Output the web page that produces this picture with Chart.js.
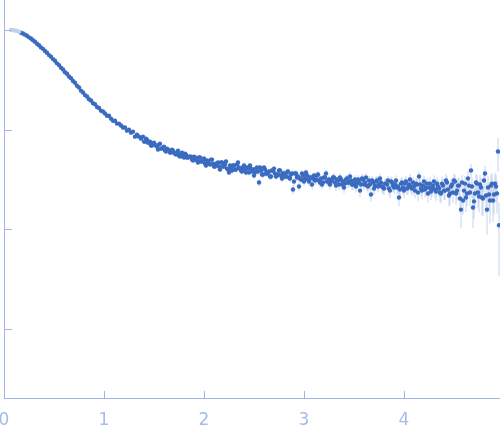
<!DOCTYPE html>
<html><head><meta charset="utf-8">
<script src="https://cdn.jsdelivr.net/npm/chart.js@4/dist/chart.umd.min.js"></script>
<style>html,body{margin:0;padding:0;background:#fff}#wrap{width:500px;height:437px}</style>
</head><body><div id="wrap"><canvas id="c"></canvas></div>
<script>
// excluded (pale) low-q points
const qExcluded = [0.07,0.09,0.11,0.13,0.15];
const iExcluded = [1.000,0.995,0.988,0.977,0.962];
const errExcluded = [0.004,0.004,0.004,0.004,0.004];

// scattering vector (odd-hundredth samples)
const q = [
0.17,0.19,0.21,0.23,0.25,0.27,0.29,0.31,0.33,0.35,0.37,0.39,0.41,0.43,0.45,0.47,0.49,0.51,0.53,0.55,0.57,0.59,0.61,0.63,0.65,0.67,0.69,0.71,0.73,0.75,0.77,0.79,0.81,0.83,0.85,0.87,0.89,0.91,0.93,0.95,0.97,0.99,
1.01,1.03,1.05,1.07,1.09,1.11,1.13,1.15,1.17,1.19,1.21,1.23,1.25,1.27,1.29,1.31,1.33,1.35,1.37,1.39,1.41,1.43,1.45,1.47,1.49,1.51,1.53,1.55,1.57,1.59,1.61,1.63,1.65,1.67,1.69,1.71,1.73,1.75,1.77,1.79,1.81,1.83,1.85,1.87,1.89,1.91,1.93,1.95,1.97,1.99,
2.01,2.03,2.05,2.07,2.09,2.11,2.13,2.15,2.17,2.19,2.21,2.23,2.25,2.27,2.29,2.31,2.33,2.35,2.37,2.39,2.41,2.43,2.45,2.47,2.49,2.51,2.53,2.55,2.57,2.59,2.61,2.63,2.65,2.67,2.69,2.71,2.73,2.75,2.77,2.79,2.81,2.83,2.85,2.87,2.89,2.91,2.93,2.95,2.97,2.99,
3.01,3.03,3.05,3.07,3.09,3.11,3.13,3.15,3.17,3.19,3.21,3.23,3.25,3.27,3.29,3.31,3.33,3.35,3.37,3.39,3.41,3.43,3.45,3.47,3.49,3.51,3.53,3.55,3.57,3.59,3.61,3.63,3.65,3.67,3.69,3.71,3.73,3.75,3.77,3.79,3.81,3.83,3.85,3.87,3.89,3.91,3.93,3.95,3.97,3.99,
4.01,4.03,4.05,4.07,4.09,4.11,4.13,4.15,4.17,4.19,4.21,4.23,4.25,4.27,4.29,4.31,4.33,4.35,4.37,4.39,4.41,4.43,4.45,4.47,4.49,4.51,4.53,4.55,4.57,4.59,4.61,4.63,4.65,4.67,4.69,4.71,4.73,4.75,4.77,4.79,4.81,4.83,4.85,4.87,4.89,4.91,4.93,4.94,4.95
];

const intensity = [
0.938,0.921,0.897,0.873,0.842,0.819,0.789,0.762,0.727,0.702,0.668,0.646,0.614,0.591,0.559,0.539,0.510,0.491,0.462,0.444,0.418,0.401,0.376,0.363,0.341,0.328,0.308,0.295,0.276,0.265,0.246,0.236,0.222,0.215,0.202,0.196,0.184,0.180,0.169,0.165,0.155,0.152,
0.145,0.138,0.138,0.129,0.123,0.123,0.115,0.115,0.110,0.105,
0.105,0.0977,0.100,0.0933,0.0955,0.0851,0.0891,0.0851,0.0813,0.0851,
0.0759,0.0794,0.0741,0.0692,0.0724,0.0708,0.0676,0.0708,0.0646,0.0661,
0.0617,0.0646,0.0617,0.0589,0.0617,0.0575,0.0589,0.0550,0.0575,0.0537,
0.0575,0.0525,0.0537,0.0537,0.0490,0.0525,0.0490,0.0525,0.0479,0.0490,
0.0457,0.0490,0.0457,0.0501,0.0457,0.0427,0.0457,0.0427,0.0468,0.0427,
0.0447,0.0407,0.0372,0.0417,0.0437,0.0398,0.0447,0.0417,0.0389,0.0417,
0.0398,0.0417,0.0372,0.0407,0.0398,0.0372,0.0417,0.0295,0.0389,0.0355,
0.0398,0.0363,0.0380,0.0339,0.0389,0.0363,0.0347,0.0389,0.0347,0.0363,
0.0339,0.0372,0.0331,0.0355,0.0251,0.0363,0.0331,0.0269,0.0316,0.0347,
0.0324,0.0347,0.0302,0.0331,0.0324,0.0309,0.0347,0.0309,0.0324,0.0295,
0.0331,0.0302,0.0316,0.0302,0.0331,0.0295,0.0316,0.0282,0.0316,0.0302,
0.0288,0.0324,0.0295,0.0309,0.0282,0.0316,0.0288,0.0302,0.0282,0.0316,
0.0295,0.0275,0.0309,0.0224,0.0295,0.0275,0.0309,0.0282,0.0295,0.0263,
0.0288,0.0282,0.0257,0.0302,0.0275,0.0282,0.0263,0.0209,0.0288,0.0263,
0.0288,0.0257,0.0282,0.0269,0.0295,0.0245,0.0282,0.0339,0.0257,0.0275,
0.0251,0.0288,0.0263,0.0240,0.0275,0.0251,0.0288,0.0257,0.0229,0.0275,
0.0245,0.0295,0.0219,0.0269,0.0234,0.0302,0.0245,0.0275,0.0158,0.0195,
0.0288,0.0229,0.0275,0.0389,0.0166,0.0229,0.0288,0.0214,0.0263,0.0204,
0.0363,0.0158,0.0224,0.0275,0.0195,0.0288,0.0229,0.0603,0.0110
];

const err = [
0.004,0.004,0.004,0.004,0.0038,0.0037,0.0036,0.0035,0.0034,0.0033,0.0032,0.0031,0.003,0.0029,0.0028,0.0027,0.0026,0.0025,0.0024,0.0023,0.0022,0.0021,0.002,0.002,0.0019,0.0018,0.0018,0.0017,0.0016,0.0016,0.0015,0.0015,0.0014,0.0014,0.0013,0.0013,0.0013,0.0012,0.0012,0.0012,0.0011,0.0011,
0.0016,0.0015,0.0016,0.0015,0.0014,0.0015,0.0014,0.0014,0.0013,0.0014,
0.0013,0.0014,0.0013,0.0013,0.0012,0.0013,0.0013,0.0012,0.0013,0.0012,
0.0012,0.0013,0.0012,0.0012,0.0013,0.0012,0.0012,0.0013,0.0012,0.0013,
0.0013,0.0012,0.0013,0.0014,0.0013,0.0014,0.0013,0.0014,0.0015,0.0014,
0.0015,0.0016,0.0015,0.0016,0.0017,0.0016,0.0017,0.0018,0.0017,0.0018,
0.0019,0.0020,0.0019,0.0021,0.0020,0.0021,0.0020,0.0022,0.0021,0.0022,
0.0021,0.0023,0.0022,0.0021,0.0023,0.0022,0.0024,0.0022,0.0023,0.0024,
0.0023,0.0024,0.0023,0.0025,0.0024,0.0023,0.0025,0.0026,0.0024,0.0025,
0.0026,0.0024,0.0025,0.0027,0.0026,0.0025,0.0027,0.0026,0.0025,0.0027,
0.0026,0.0028,0.0027,0.0026,0.0028,0.0027,0.0026,0.0028,0.0027,0.0029,
0.0028,0.0027,0.0029,0.0028,0.0030,0.0029,0.0028,0.0030,0.0029,0.0031,
0.0030,0.0029,0.0031,0.0030,0.0032,0.0031,0.0030,0.0032,0.0031,0.0033,
0.0032,0.0031,0.0033,0.0032,0.0034,0.0033,0.0032,0.0034,0.0033,0.0035,
0.0034,0.0033,0.0035,0.0034,0.0036,0.0035,0.0034,0.0036,0.0035,0.0037,
0.0036,0.0035,0.0037,0.0036,0.0038,0.0037,0.0036,0.0038,0.0037,0.0039,
0.0038,0.0037,0.0039,0.0038,0.0040,0.0039,0.0041,0.0040,0.0042,0.0041,
0.0043,0.0042,0.0044,0.0043,0.0045,0.0044,0.0046,0.0045,0.0047,0.0046,
0.0048,0.0047,0.0049,0.0048,0.0050,0.0052,0.0051,0.0053,0.0055,0.0054,
0.0056,0.0058,0.0057,0.0060,0.0062,0.0061,0.0064,0.0066,0.0065,0.0068,
0.0071,0.0070,0.0074,0.0077,0.0076,0.0081,0.0085,0.0225,0.0076
];

// interleaved (even-hundredth) samples in the noisy region
const qInterleaved = [
1.40,1.42,1.44,1.46,1.48,1.50,1.52,1.54,1.56,1.58,1.60,1.62,1.64,1.66,1.68,1.70,1.72,1.74,1.76,1.78,1.80,1.82,1.84,1.86,1.88,1.90,1.92,1.94,1.96,1.98,
2.00,2.02,2.04,2.06,2.08,2.10,2.12,2.14,2.16,2.18,2.20,2.22,2.24,2.26,2.28,2.30,2.32,2.34,2.36,2.38,2.40,2.42,2.44,2.46,2.48,2.50,2.52,2.54,2.56,2.58,2.60,2.62,2.64,2.66,2.68,2.70,2.72,2.74,2.76,2.78,2.80,2.82,2.84,2.86,2.88,2.90,2.92,2.94,2.96,2.98,
3.00,3.02,3.04,3.06,3.08,3.10,3.12,3.14,3.16,3.18,3.20,3.22,3.24,3.26,3.28,3.30,3.32,3.34,3.36,3.38,3.40,3.42,3.44,3.46,3.48,3.50,3.52,3.54,3.56,3.58,3.60,3.62,3.64,3.66,3.68,3.70,3.72,3.74,3.76,3.78,3.80,3.82,3.84,3.86,3.88,3.90,3.92,3.94,3.96,3.98,
4.00,4.02,4.04,4.06,4.08,4.10,4.12,4.14,4.16,4.18,4.20,4.22,4.24,4.26,4.28,4.30,4.32,4.34,4.36,4.38,4.40,4.42,4.44,4.46,4.48,4.50,4.52,4.54,4.56,4.58,4.60,4.62,4.64,4.66,4.68,4.70,4.72,4.74,4.76,4.78,4.80,4.82,4.84,4.86,4.88,4.90,4.92
];

const intensityInterleaved = [
0.0759,0.0813,0.0741,0.0759,0.0692,0.0741,0.0692,0.0631,0.0724,0.0646,
0.0676,0.0603,0.0631,0.0589,0.0631,0.0589,0.0562,0.0617,0.0537,0.0589,
0.0525,0.0562,0.0525,0.0537,0.0501,0.0537,0.0501,0.0468,0.0525,0.0479,
0.0513,0.0437,0.0479,0.0447,0.0501,0.0427,0.0457,0.0468,0.0398,0.0468,
0.0427,0.0479,0.0398,0.0437,0.0389,0.0437,0.0398,0.0468,0.0407,0.0380,
0.0437,0.0372,0.0407,0.0437,0.0380,0.0347,0.0407,0.0380,0.0417,0.0355,
0.0417,0.0363,0.0372,0.0339,0.0389,0.0407,0.0339,0.0355,0.0389,0.0324,
0.0363,0.0339,0.0380,0.0324,0.0363,0.0302,0.0363,0.0339,0.0324,0.0363,
0.0302,0.0372,0.0316,0.0331,0.0282,0.0347,0.0316,0.0355,0.0295,0.0282,
0.0331,0.0363,0.0302,0.0282,0.0316,0.0331,0.0275,0.0309,0.0331,0.0282,
0.0263,0.0316,0.0295,0.0339,0.0282,0.0302,0.0269,0.0316,0.0245,0.0324,
0.0282,0.0331,0.0269,0.0282,0.0309,0.0257,0.0302,0.0269,0.0324,0.0269,
0.0257,0.0288,0.0309,0.0245,0.0295,0.0263,0.0309,0.0269,0.0251,0.0295,
0.0245,0.0302,0.0263,0.0316,0.0257,0.0269,0.0288,0.0234,0.0282,0.0245,
0.0302,0.0263,0.0229,0.0288,0.0257,0.0302,0.0240,0.0269,0.0234,0.0288,
0.0245,0.0309,0.0251,0.0229,0.0282,0.0309,0.0229,0.0275,0.0204,0.0295,
0.0245,0.0209,0.0324,0.0234,0.0269,0.0191,0.0295,0.0234,0.0282,0.0209,
0.0309,0.0219,0.0263,0.0195,0.0288,0.0224,0.0269
];

const errInterleaved = [
0.0014,0.0015,0.0014,0.0015,0.0014,0.0015,0.0016,0.0015,0.0016,0.0015,
0.0016,0.0017,0.0016,0.0017,0.0016,0.0017,0.0018,0.0017,0.0018,0.0017,
0.0018,0.0019,0.0018,0.0019,0.0018,0.0019,0.0020,0.0019,0.0020,0.0019,
0.0020,0.0021,0.0020,0.0021,0.0022,0.0021,0.0022,0.0021,0.0022,0.0023,
0.0022,0.0023,0.0022,0.0024,0.0023,0.0022,0.0024,0.0023,0.0024,0.0023,
0.0024,0.0025,0.0024,0.0023,0.0025,0.0024,0.0026,0.0025,0.0024,0.0026,
0.0025,0.0026,0.0027,0.0025,0.0026,0.0027,0.0026,0.0028,0.0027,0.0026,
0.0028,0.0027,0.0029,0.0028,0.0027,0.0029,0.0028,0.0030,0.0029,0.0028,
0.0029,0.0030,0.0029,0.0031,0.0030,0.0029,0.0031,0.0030,0.0032,0.0031,
0.0030,0.0032,0.0031,0.0033,0.0032,0.0031,0.0033,0.0032,0.0034,0.0033,
0.0032,0.0034,0.0033,0.0035,0.0034,0.0033,0.0035,0.0034,0.0036,0.0035,
0.0034,0.0036,0.0035,0.0037,0.0036,0.0035,0.0037,0.0036,0.0038,0.0037,
0.0036,0.0038,0.0037,0.0039,0.0038,0.0037,0.0039,0.0038,0.0040,0.0039,
0.0039,0.0040,0.0039,0.0041,0.0040,0.0042,0.0041,0.0043,0.0042,0.0044,
0.0043,0.0045,0.0044,0.0046,0.0045,0.0047,0.0046,0.0048,0.0047,0.0049,
0.0048,0.0050,0.0049,0.0051,0.0050,0.0053,0.0052,0.0055,0.0057,0.0056,
0.0059,0.0061,0.0060,0.0063,0.0065,0.0064,0.0067,0.0069,0.0068,0.0071,
0.0073,0.0072,0.0076,0.0079,0.0078,0.0082,0.0084
];

const xTickValues = [0, 1, 2, 3, 4];
const xTickLabels = ['0', '1', '2', '3', '4'];
const yTickValues = [1, 0.1, 0.01, 0.001];

const axisColor = '#9fb6e2';
const labelColor = '#a6bce6';
const pointColor = '#3a6bc1';
const paleColor = '#c4d1eb';
const barColor = 'rgba(160,184,226,0.6)';

const mainData = q.map((v, i) => ({ x: v, y: intensity[i], e: err[i] }))
  .concat(qInterleaved.map((v, i) => ({ x: v, y: intensityInterleaved[i], e: errInterleaved[i] })));
const paleData = qExcluded.map((v, i) => ({ x: v, y: iExcluded[i], e: errExcluded[i] }));

const errorBarPlugin = {
  id: 'errorBars',
  beforeDatasetsDraw(chart) {
    const { ctx, chartArea, scales } = chart;
    const xs = scales.x, ys = scales.y;
    ctx.save();
    ctx.beginPath();
    ctx.rect(chartArea.left, chartArea.top, chartArea.right - chartArea.left, chartArea.bottom - chartArea.top);
    ctx.clip();
    ctx.strokeStyle = barColor;
    ctx.lineWidth = 1;
    chart.data.datasets.forEach(ds => {
      ds.data.forEach(p => {
        const x = xs.getPixelForValue(p.x);
        const y1 = ys.getPixelForValue(p.y + p.e);
        const y2 = ys.getPixelForValue(Math.max(p.y - p.e, 1e-6));
        ctx.beginPath();
        ctx.moveTo(x, y1);
        ctx.lineTo(x, y2);
        ctx.stroke();
      });
    });
    ctx.restore();
  }
};

const innerTicksPlugin = {
  id: 'innerTicks',
  afterDraw(chart) {
    const { ctx, chartArea, scales } = chart;
    ctx.save();
    ctx.strokeStyle = axisColor;
    ctx.lineWidth = 1;
    yTickValues.forEach(v => {
      const y = Math.round(scales.y.getPixelForValue(v)) + 0.5;
      ctx.beginPath();
      ctx.moveTo(chartArea.left, y);
      ctx.lineTo(chartArea.left + 8, y);
      ctx.stroke();
    });
    xTickValues.forEach(v => {
      const x = Math.round(scales.x.getPixelForValue(v)) + 0.5;
      ctx.beginPath();
      ctx.moveTo(x, chartArea.bottom);
      ctx.lineTo(x, chartArea.bottom - 7);
      ctx.stroke();
    });
    ctx.restore();
  }
};

new Chart(document.getElementById('c'), {
  type: 'scatter',
  data: {
    datasets: [
      { data: paleData, backgroundColor: paleColor, borderWidth: 0, pointRadius: 2.2 },
      { data: mainData, backgroundColor: pointColor, borderWidth: 0, pointRadius: 2.2 }
    ]
  },
  options: {
    responsive: true,
    maintainAspectRatio: false,
    animation: false,
    layout: { autoPadding: false, padding: { left: 4, right: 0, top: 0, bottom: 0 } },
    plugins: { legend: { display: false }, tooltip: { enabled: false } },
    scales: {
      x: {
        type: 'linear', min: 0, max: 4.96,
        grid: { display: false, drawTicks: false },
        border: { display: true, color: axisColor, width: 1 },
        afterBuildTicks: s => { s.ticks = xTickValues.map(v => ({ value: v })); },
        afterFit: s => { s.height = 39; s.paddingLeft = 0; s.paddingRight = 0; },
        ticks: {
          color: labelColor, padding: 12, maxRotation: 0, autoSkip: false,
          font: { family: 'DejaVu Sans', size: 17 },
          callback: v => xTickLabels[xTickValues.indexOf(v)]
        }
      },
      y: {
        type: 'logarithmic', min: 0.000204, max: 1.995,
        grid: { display: false, drawTicks: false },
        border: { display: true, color: axisColor, width: 1 },
        afterBuildTicks: s => { s.ticks = yTickValues.map(v => ({ value: v })); },
        afterFit: s => { s.width = 0; s.paddingTop = 0; s.paddingBottom = 0; },
        ticks: { display: false }
      }
    }
  },
  plugins: [errorBarPlugin, innerTicksPlugin]
});
</script>
</body></html>
